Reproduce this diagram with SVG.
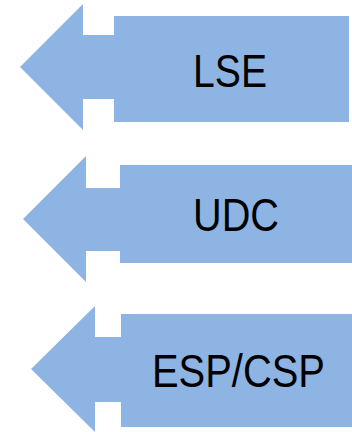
<svg xmlns="http://www.w3.org/2000/svg" width="352" height="432" viewBox="0 0 352 432">
<style>
.a{fill:#8EB4E3;stroke:none}
.t{font-family:"Liberation Sans","Open Sans",sans-serif;font-size:46px;fill:#000}
</style>
<rect width="352" height="432" fill="#fff"/>
<g id="node-lse">
<path class="a" d="M20,67 L83,4 L83,35 L114,35 L114,16 L349,16 L349,122 L114,122 L114,99 L83,99 L83,130 Z"/>
<text class="t" x="193" y="87" textLength="74" lengthAdjust="spacingAndGlyphs">LSE</text>
</g>
<g id="node-udc">
<path class="a" d="M23,219 L86,156 L86,188 L120,188 L120,165 L352,165 L352,263 L120,263 L120,251 L86,251 L86,282 Z"/>
<text class="t" x="193" y="231" textLength="86" lengthAdjust="spacingAndGlyphs">UDC</text>
</g>
<g id="node-espcsp">
<path class="a" d="M31,369 L95,306 L95,337 L121,337 L121,314 L352,314 L352,427 L121,427 L121,402 L95,402 L95,432 Z"/>
<text class="t" x="152" y="387" textLength="173" lengthAdjust="spacingAndGlyphs">ESP/CSP</text>
</g>
<g id="connectors"></g>
</svg>
